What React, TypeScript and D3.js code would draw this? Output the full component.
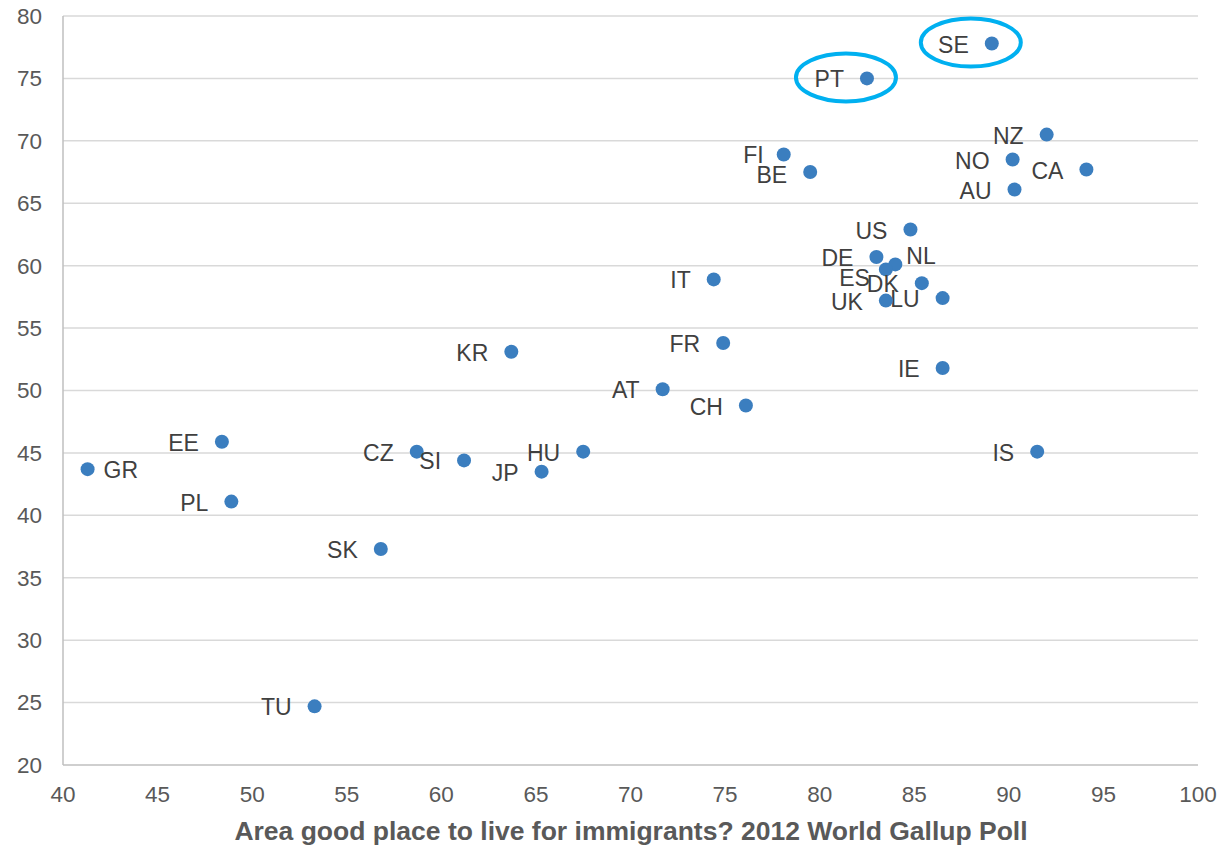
import React from "react";
import * as d3 from "d3";

// Country codes and their two survey scores
const countries = ["GR","EE","PL","SK","TU","CZ","SI","JP","HU","KR","AT","CH","FR","IT","FI","BE","PT","SE","NZ","NO","CA","AU","US","DE","NL","ES","DK","LU","UK","IE","IS"];
const goodPlaceForImmigrants = [41.3,48.4,48.9,56.8,53.3,58.7,61.2,65.3,67.5,63.7,71.7,76.1,74.9,74.4,78.1,79.5,82.5,89.1,92.0,90.2,94.1,90.3,84.8,83.0,84.0,83.5,85.4,86.5,83.5,86.5,91.5];
const yValues = [43.7,45.9,41.1,37.3,24.7,45.1,44.4,43.5,45.1,53.1,50.1,48.8,53.8,58.9,68.9,67.5,75.0,77.8,70.5,68.5,67.7,66.1,62.9,60.7,60.1,59.7,58.6,57.4,57.2,51.8,45.1];

const xTicks = [40,45,50,55,60,65,70,75,80,85,90,95,100];
const yTicks = [20,25,30,35,40,45,50,55,60,65,70,75,80];
const highlighted = ["PT","SE"];
const xTitle = "Area good place to live for immigrants? 2012 World Gallup Poll";

// Label placement: default is to the left of the dot
const labelPlacement: Record<string, { dx: number; dy: number; anchor: string }> = {
  GR: { dx: 16, dy: 1, anchor: "start" },
  NL: { dx: 11, dy: -8, anchor: "start" },
  ES: { dx: -16, dy: 9, anchor: "end" },
  FI: { dx: -20, dy: 0, anchor: "end" },
  BE: { dx: -23, dy: 3, anchor: "end" },
};

const W = 1230, H = 845;
const M = { left: 63, right: 1198, top: 16, bottom: 765 };
const FONT = "'Liberation Sans', Arial, sans-serif";

export default function App() {
  const x = d3.scaleLinear().domain([40, 100]).range([M.left, M.right]);
  const y = d3.scaleLinear().domain([20, 80]).range([M.bottom, M.top]);
  const pts = countries.map((c, i) => ({ c, vx: goodPlaceForImmigrants[i], vy: yValues[i] }));

  return (
    <svg width={W} height={H} style={{ position: "absolute", left: 0, top: 0, background: "#fff" }} fontFamily={FONT}>
      {yTicks.map((t) => (
        <g key={"y" + t}>
          {t > 20 && <line x1={M.left} x2={M.right} y1={y(t)} y2={y(t)} stroke="#D9D9D9" strokeWidth={1.5} />}
          <text x={42} y={y(t)} dy="0.35em" textAnchor="end" fontSize={22.5} fill="#595959">{t}</text>
        </g>
      ))}
      <line x1={M.left} x2={M.right} y1={M.bottom} y2={M.bottom} stroke="#BFBFBF" strokeWidth={1.5} />
      <line x1={M.left} x2={M.left} y1={M.top} y2={M.bottom} stroke="#BFBFBF" strokeWidth={1.5} />
      {xTicks.map((t) => (
        <text key={"x" + t} x={x(t)} y={794} dy="0.35em" textAnchor="middle" fontSize={22.5} fill="#595959">{t}</text>
      ))}
      <text x={631} y={831} dy="0.35em" textAnchor="middle" fontSize={26.5} fontWeight="bold" fill="#595959">{xTitle}</text>
      {pts.map((p) => {
        const pl = labelPlacement[p.c] || { dx: -23, dy: 1, anchor: "end" };
        return (
          <g key={p.c}>
            <circle cx={x(p.vx)} cy={y(p.vy)} r={7} fill="#3B7EBF" />
            <text x={x(p.vx) + pl.dx} y={y(p.vy) + pl.dy} dy="0.35em" textAnchor={pl.anchor} fontSize={23} fill="#404040">{p.c}</text>
          </g>
        );
      })}
      {pts.filter((p) => highlighted.includes(p.c)).map((p) => (
        <ellipse key={"h" + p.c} cx={x(p.vx) - 21} cy={y(p.vy) - 1} rx={50} ry={24} fill="none" stroke="#00B0F0" strokeWidth={4} />
      ))}
    </svg>
  );
}
